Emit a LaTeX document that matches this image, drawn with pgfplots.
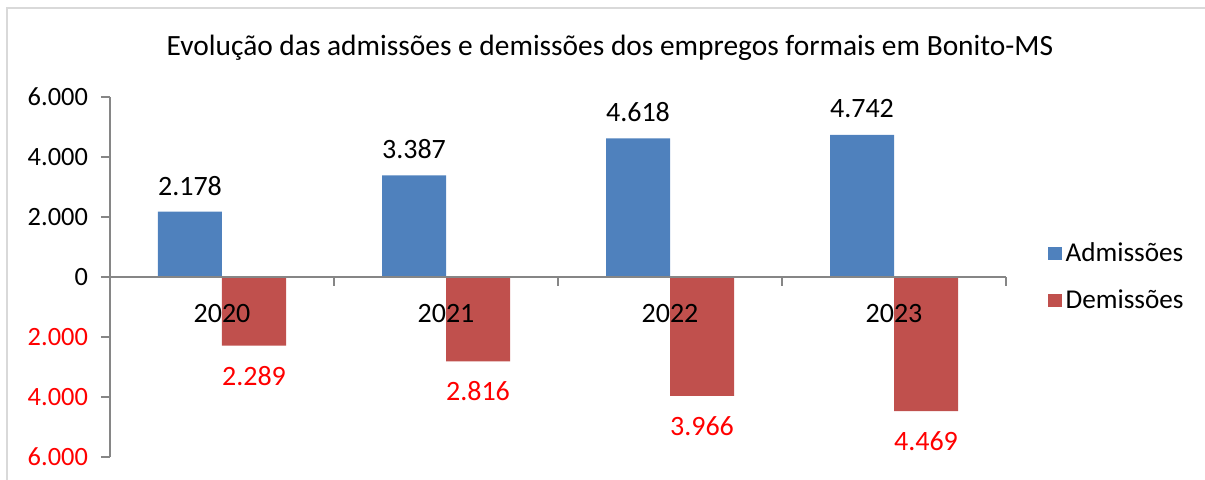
\documentclass[border=0pt]{standalone}
\usepackage{pgfplots}
\pgfplotsset{compat=1.18}
\usepackage{fontspec}
\setmainfont{Carlito}
\definecolor{adm}{HTML}{4F81BD}
\definecolor{dem}{HTML}{C0504D}
\definecolor{axgray}{HTML}{868686}
\definecolor{frame}{HTML}{D9D9D9}

\begin{document}
\begin{tikzpicture}[x=1pt,y=1pt]
% page = 1205 x 479 px at 0.5pt per px; origin at the lower left of the axis (px 110, 457)
\useasboundingbox (-55,-11) rectangle (547.5,228.5);
\draw[frame, line width=1pt] (-51.5,-20) -- (-51.5,224.5) -- (560,224.5);

\begin{axis}[
    at={(0pt,0pt)}, anchor=south west,
    scale only axis, width=448pt, height=180pt,
    xmin=-0.5, xmax=3.5, ymin=-6000, ymax=6000,
    axis y line*=left, axis x line=none,
    axis line style={axgray, line width=0.8pt},
    ytick={-6000,-4000,-2000,0,2000,4000,6000},
    yticklabels={\textcolor{red}{6.000},\textcolor{red}{4.000},\textcolor{red}{2.000},0,2.000,4.000,6.000},
    tick align=outside, major tick length=4.5pt,
    y tick style={axgray, line width=0.8pt},
    yticklabel style={font=\fontsize{13.2}{15}\selectfont, xshift=-3pt},
    ybar=0pt, bar width=32pt,
    /pgf/number format/assume math mode=true,
    every node near coord/.append style={font=\fontsize{14}{16}\selectfont, anchor=center},
    nodes near coords={\pgfmathprintnumber[1000 sep={.}]{\pgfplotspointmeta}},
    point meta=explicit,
    legend style={draw=none, fill=none, at={(axis cs:3.5,0)}, anchor=west, xshift=21pt,
      font=\fontsize{13.6}{16}\selectfont, row sep=8.5pt, inner sep=0pt,
      /tikz/every even column/.append style={column sep=0pt}},
    legend cell align=left,
    clip=false,
  ]
  \addplot[fill=adm, draw=none,
      legend image code/.code={\fill[adm] (0pt,-3.3pt) rectangle (6.6pt,3.3pt);},
      every node near coord/.append style={black, yshift=13pt}]
    coordinates {(0,2178) [2178] (1,3387) [3387] (2,4618) [4618] (3,4742) [4742]};
  \addplot[fill=dem, draw=none,
      legend image code/.code={\fill[dem] (0pt,-3.3pt) rectangle (6.6pt,3.3pt);},
      every node near coord/.append style={red, yshift=-15pt}]
    coordinates {(0,-2289) [2289] (1,-2816) [2816] (2,-3966) [3966] (3,-4469) [4469]};
  \legend{Admissões, Demissões}

  % zero line with category boundary ticks
  \draw[axgray, line width=0.8pt] (axis cs:-0.5,0) -- (axis cs:3.5,0);
  \pgfplotsinvokeforeach{0.5,1.5,2.5,3.5}{
    \draw[axgray, line width=0.8pt] (axis cs:#1,0) -- ([yshift=-4.5pt]axis cs:#1,0);
  }
  \node[font=\fontsize{14}{16}\selectfont] at ([yshift=-18pt]axis cs:0,0) {2020};
  \node[font=\fontsize{14}{16}\selectfont] at ([yshift=-18pt]axis cs:1,0) {2021};
  \node[font=\fontsize{14}{16}\selectfont] at ([yshift=-18pt]axis cs:2,0) {2022};
  \node[font=\fontsize{14}{16}\selectfont] at ([yshift=-18pt]axis cs:3,0) {2023};
\end{axis}

\node[font=\fontsize{14.7}{17}\selectfont] at (250,204.5)
  {Evolução das admissões e demissões dos empregos formais em Bonito-MS};
\end{tikzpicture}
\end{document}
